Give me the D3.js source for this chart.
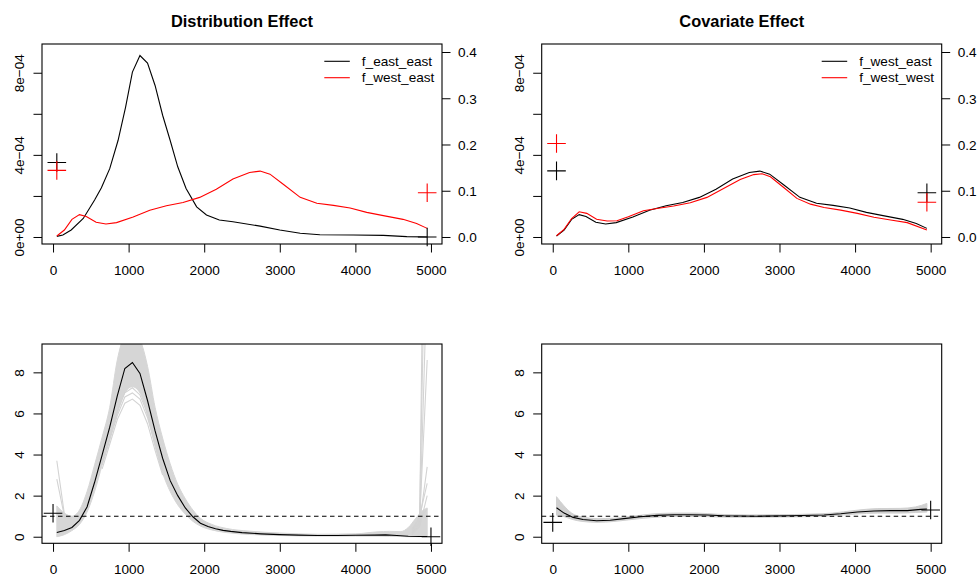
<!DOCTYPE html>
<html>
<head>
<meta charset="utf-8">
<script src="https://cdn.jsdelivr.net/npm/d3@7"></script>
<style>
  body { margin: 0; background: #fff; }
  svg { display: block; font-family: "Liberation Sans", Arial, Helvetica, sans-serif; }
</style>
</head>
<body>
<div id="chart"></div>
<script>
// densities, in units of 1e-4
let eastEast = [[50,0.03],[130,0.1],[240,0.34],[400,0.9],[550,1.8],[640,2.4],[750,3.33],[860,4.7],[960,6.33],[1050,8.03],[1150,8.84],[1250,8.47],[1350,7.38],[1450,5.93],[1550,4.7],[1650,3.42],[1760,2.36],[1900,1.47],[2030,1.07],[2200,0.83],[2380,0.74],[2740,0.53],[3000,0.34],[3270,0.18],[3530,0.11],[3970,0.1],[4370,0.08],[4680,0.02],[4950,0]];
let westEast = [[50,0.05],[150,0.34],[250,0.86],[350,1.09],[440,1.0],[570,0.72],[700,0.63],[840,0.7],[1060,0.97],[1280,1.3],[1500,1.52],[1720,1.68],[1940,1.93],[2160,2.33],[2380,2.82],[2600,3.14],[2740,3.21],[2870,3.06],[3050,2.56],[3270,1.93],[3490,1.64],[3710,1.54],[3930,1.41],[4150,1.2],[4370,1.04],[4630,0.86],[4810,0.66],[4950,0.42]];
let westWest = [[50,0.06],[150,0.37],[250,0.9],[350,1.23],[450,1.15],[580,0.86],[720,0.78],[850,0.79],[1000,0.99],[1200,1.28],[1380,1.39],[1600,1.51],[1820,1.67],[2040,1.93],[2260,2.36],[2480,2.8],[2660,3.04],[2770,3.08],[2880,2.93],[3060,2.4],[3230,1.88],[3410,1.6],[3590,1.44],[3810,1.31],[4030,1.15],[4250,0.96],[4470,0.83],[4690,0.7],[4950,0.34]];

// point masses at the ends (right axis)
let massDist = [{x: 50, y: 0.161, c: "black"}, {x: 50, y: 0.144, c: "red"}, {x: 4950, y: 0.0, c: "black"}, {x: 4950, y: 0.0957, c: "red"}];
let massCov = [{x: 50, y: 0.143, c: "black"}, {x: 50, y: 0.202, c: "red"}, {x: 4950, y: 0.0957, c: "black"}, {x: 4950, y: 0.075, c: "red"}];

// ratios
let ratioDist = [[50,0.21],[150,0.3],[250,0.45],[350,0.8],[450,1.45],[550,2.65],[650,3.98],[750,5.33],[850,6.86],[950,8.19],[1050,8.48],[1150,7.95],[1250,6.63],[1350,5.15],[1450,3.82],[1550,2.73],[1650,2.0],[1750,1.4],[1850,0.97],[1950,0.66],[2050,0.5],[2150,0.39],[2250,0.31],[2350,0.26],[2500,0.2],[2750,0.14],[3000,0.1],[3250,0.08],[3500,0.06],[3750,0.06],[4000,0.07],[4250,0.08],[4400,0.09],[4550,0.06],[4700,0.02],[4850,0.01],[4950,0.01]];
let bandDistX = [50,150,250,350,450,550,650,750,850,950,1050,1150,1250,1350,1450,1550,1650,1750,1850,1950,2100,2300,2600,3000,3500,4000,4300,4450,4600,4700,4800,4900,4950];
let bandDistLo = [0.0,0.1,0.3,0.6,1.2,2.2,3.5,4.8,6.0,7.0,7.3,7.0,5.9,4.4,3.1,2.2,1.55,1.1,0.75,0.52,0.33,0.2,0.11,0.06,0.03,0.03,0.03,0.02,0.01,0,0,0,0];
let bandDistHi = [1.5,1.15,1.0,1.3,2.2,3.5,4.85,6.3,8.6,9.8,10,9.6,8.3,6.3,4.8,3.55,2.55,1.85,1.3,0.9,0.6,0.4,0.27,0.18,0.12,0.14,0.24,0.26,0.25,0.45,0.9,1.3,1.4];
let spikesDist = [
  [[50,3.7],[150,1.1],[250,0.9]],
  [[50,2.8],[150,1.0],[250,0.85]],
  [[650,3.3],[750,4.5],[850,5.7],[950,6.5],[1050,6.7],[1150,6.4],[1250,5.5],[1350,4.2],[1450,3.0]],
  [[650,3.5],[750,4.7],[850,5.9],[950,6.8],[1050,7.0],[1150,6.7],[1250,5.8],[1350,4.5],[1450,3.2]],
  [[650,3.6],[750,4.8],[850,6.1],[950,7.0],[1050,7.25],[1150,6.9],[1250,6.0],[1350,4.7],[1450,3.4]],
  [[4750,0.2],[4850,0.6],[4950,30]],
  [[4750,0.3],[4850,1.0],[4950,20]],
  [[4750,0.2],[4850,0.5],[4950,13]],
  [[4750,0.1],[4850,0.8],[4950,8.6]],
  [[4750,0.3],[4850,0.7],[4950,3.4]],
  [[4750,0.2],[4850,1.0],[4950,2.6]],
  [[4750,0.1],[4850,0.5],[4950,2.0]],
  [[4750,0.4],[4850,0.9],[4950,1.35]]
];
let ratioCov = [[50,1.41],[150,1.15],[270,0.94],[400,0.84],[580,0.78],[760,0.8],[940,0.88],[1160,0.97],[1380,1.04],[1600,1.07],[1820,1.07],[2040,1.06],[2260,1.02],[2700,1.0],[3150,1.02],[3590,1.06],[3810,1.12],[4030,1.2],[4250,1.25],[4470,1.27],[4690,1.27],[4870,1.33],[4950,1.35]];
let bandCovX = [50,150,250,400,600,800,1000,1300,1600,1900,2200,2600,3000,3400,3700,4000,4300,4600,4800,4950];
let bandCovLo = [1.05,0.98,0.85,0.74,0.7,0.74,0.82,0.93,0.99,0.99,0.96,0.95,0.96,0.98,1.02,1.1,1.15,1.15,1.18,1.2];
let bandCovHi = [1.95,1.5,1.15,0.95,0.88,0.9,0.97,1.1,1.15,1.15,1.09,1.06,1.07,1.1,1.15,1.28,1.37,1.38,1.45,1.62];
let massRatioDist = [{x: 0, y: 1.14}, {x: 5000, y: 0}];
let massRatioCov = [{x: 0, y: 0.7}, {x: 5000, y: 1.3}];

let xTicks = [0, 1000, 2000, 3000, 4000, 5000];
let densTicks = [0, 2, 4, 6, 8];
let densLabels = {0: "0e+00", 4: "4e\u221204", 8: "8e\u221204"};
let massTicks = [0, 0.1, 0.2, 0.3, 0.4];
let ratioTicks = [0, 2, 4, 6, 8];

let width = 979, height = 579;
let fontSize = 13.6, tickLen = 8.5;

const svg = d3.select("#chart").append("svg")
  .attr("width", width)
  .attr("height", height);

let panels = [
  { id: "tl", x0: 42, x1: 442, y0: 44, y1: 244 },
  { id: "tr", x0: 541.7, x1: 941.7, y0: 44, y1: 244 },
  { id: "bl", x0: 42, x1: 442, y0: 344, y1: 543.3 },
  { id: "br", x0: 541.7, x1: 941.7, y0: 344, y1: 543.3 }
];

let makePanel = function (p) {
  let x = d3.scaleLinear().domain([-146, 5146]).range([p.x0, p.x1]);
  svg.append("defs").append("clipPath")
    .attr("id", "clip-" + p.id)
    .append("rect")
    .attr("x", p.x0).attr("y", p.y0)
    .attr("width", p.x1 - p.x0).attr("height", p.y1 - p.y0);
  let g = svg.append("g");
  let plot = g.append("g").attr("clip-path", "url(#clip-" + p.id + ")");

  // x axis
  let ax = g.append("g")
    .attr("transform", "translate(0," + p.y1 + ")")
    .call(d3.axisBottom(x).tickValues(xTicks).tickSize(tickLen).tickFormat(d3.format("d")));
  ax.select(".domain").remove();
  ax.selectAll("text").attr("y", 30.5).attr("dy", 0).attr("font-size", fontSize).attr("font-family", null);

  return { g: g, plot: plot, x: x };
};

let styleLeft = function (ax) {
  ax.select(".domain").remove();
  ax.selectAll("text")
    .attr("x", null).attr("dy", 0)
    .attr("transform", "translate(-18,0) rotate(-90)")
    .attr("text-anchor", "middle")
    .attr("font-size", fontSize).attr("font-family", null);
};

let styleRight = function (ax) {
  ax.select(".domain").remove();
  ax.selectAll("text").attr("x", 16).attr("dy", "0.35em").attr("font-size", fontSize).attr("font-family", null);
};

let drawCross = function (plot, px, py, color) {
  let s = 9.3;
  plot.append("path")
    .attr("d", "M" + (px - s) + "," + py + "H" + (px + s) + "M" + px + "," + (py - s) + "V" + (py + s))
    .attr("stroke", color).attr("stroke-width", 1.1).attr("fill", "none");
};

let drawLegend = function (g, lx, items) {
  items.forEach(function (d, i) {
    let ly = 61.3 + i * 16.4;
    g.append("line")
      .attr("x1", lx).attr("x2", lx + 25.5)
      .attr("y1", ly).attr("y2", ly)
      .attr("stroke", d.color).attr("stroke-width", 1.1);
    g.append("text")
      .attr("x", lx + 37.5).attr("y", ly).attr("dy", "0.35em")
      .attr("font-size", fontSize)
      .text(d.label);
  });
};

let drawBox = function (g, p) {
  g.append("rect")
    .attr("x", p.x0).attr("y", p.y0)
    .attr("width", p.x1 - p.x0).attr("height", p.y1 - p.y0)
    .attr("fill", "none").attr("stroke", "black").attr("stroke-width", 1.1);
};

// top panels: densities
[
  { p: panels[0], title: "Distribution Effect", series: [[eastEast, "black"], [westEast, "red"]], mass: massDist,
    legend: [{ label: "f_east_east", color: "black" }, { label: "f_west_east", color: "red" }], lx: 324.3 },
  { p: panels[1], title: "Covariate Effect", series: [[westEast, "black"], [westWest, "red"]], mass: massCov,
    legend: [{ label: "f_west_east", color: "black" }, { label: "f_west_west", color: "red" }], lx: 821.7 }
].forEach(function (cfg) {
  let p = cfg.p;
  let pan = makePanel(p);
  let y = d3.scaleLinear().domain([-0.341, 9.40]).range([p.y1, p.y0]);
  let y2 = d3.scaleLinear().domain([-0.01514, 0.4173]).range([p.y1, p.y0]);

  let axl = pan.g.append("g")
    .attr("transform", "translate(" + p.x0 + ",0)")
    .call(d3.axisLeft(y).tickValues(densTicks).tickSize(tickLen).tickFormat(d => densLabels[d] || ""));
  styleLeft(axl);
  let axr = pan.g.append("g")
    .attr("transform", "translate(" + p.x1 + ",0)")
    .call(d3.axisRight(y2).tickValues(massTicks).tickSize(tickLen).tickFormat(d3.format(".1f")));
  styleRight(axr);

  let line = d3.line().x(d => pan.x(d[0])).y(d => y(d[1]));
  cfg.series.forEach(function (s) {
    pan.plot.append("path")
      .datum(s[0])
      .attr("d", line)
      .attr("fill", "none")
      .attr("stroke", s[1])
      .attr("stroke-width", 1.1);
  });
  cfg.mass.forEach(d => drawCross(pan.g, pan.x(d.x), y2(d.y), d.c));
  drawLegend(pan.g, cfg.lx, cfg.legend);
  drawBox(pan.g, p);

  pan.g.append("text")
    .attr("x", (p.x0 + p.x1) / 2).attr("y", 26.5)
    .attr("text-anchor", "middle")
    .attr("font-size", 16.4).attr("font-weight", "bold")
    .text(cfg.title);
});

// bottom panels: ratios
[
  { p: panels[2], ratio: ratioDist, bx: bandDistX, lo: bandDistLo, hi: bandDistHi, spikes: spikesDist, mass: massRatioDist, band: "#d6d6d6" },
  { p: panels[3], ratio: ratioCov, bx: bandCovX, lo: bandCovLo, hi: bandCovHi, spikes: [], mass: massRatioCov, band: "#d0d0d0" }
].forEach(function (cfg) {
  let p = cfg.p;
  let pan = makePanel(p);
  let y = d3.scaleLinear().domain([-0.32, 9.38]).range([p.y1, p.y0]);

  let axl = pan.g.append("g")
    .attr("transform", "translate(" + p.x0 + ",0)")
    .call(d3.axisLeft(y).tickValues(ratioTicks).tickSize(tickLen).tickFormat(d3.format("d")));
  styleLeft(axl);

  let band = d3.area()
    .x((d, i) => pan.x(cfg.bx[i]))
    .y0((d, i) => y(cfg.lo[i]))
    .y1((d, i) => y(cfg.hi[i]))
    .curve(d3.curveMonotoneX);
  pan.plot.append("path")
    .datum(cfg.bx)
    .attr("d", band)
    .attr("fill", cfg.band)
    .attr("stroke", cfg.band)
    .attr("stroke-width", 1);

  let line = d3.line().x(d => pan.x(d[0])).y(d => y(d[1]));
  cfg.spikes.forEach(function (s) {
    pan.plot.append("path")
      .datum(s)
      .attr("d", line)
      .attr("fill", "none")
      .attr("stroke", "#d3d3d3")
      .attr("stroke-width", 1.1);
  });

  pan.plot.append("line")
    .attr("x1", p.x0).attr("x2", p.x1)
    .attr("y1", y(1)).attr("y2", y(1))
    .attr("stroke", "black").attr("stroke-width", 1.1)
    .attr("stroke-dasharray", "4.5,3.5");

  pan.plot.append("path")
    .datum(cfg.ratio)
    .attr("d", line)
    .attr("fill", "none")
    .attr("stroke", "black")
    .attr("stroke-width", 1.1);

  cfg.mass.forEach(d => drawCross(pan.g, pan.x(d.x), y(d.y), "black"));
  drawBox(pan.g, p);
});
</script>
</body>
</html>
